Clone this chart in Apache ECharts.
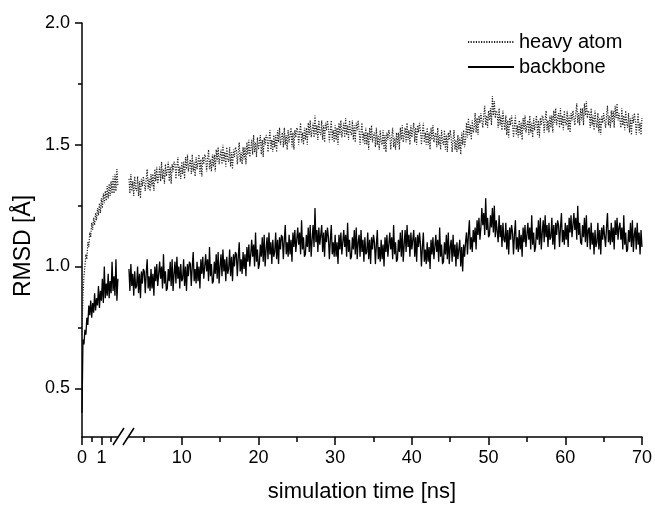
<!DOCTYPE html>
<html>
<head>
<meta charset="utf-8">
<script src="https://cdn.jsdelivr.net/npm/echarts@6/dist/echarts.min.js"></script>
<style>html,body{margin:0;padding:0;background:#fff}#c{width:655px;height:506px}</style>
</head>
<body>
<div id="c"></div>
<script>
// ---- data (RMSD in Å vs simulation time in ns) ----
// early segment: 0 .. 1.85 ns, step 0.05 ns
var earlyStart = 0, earlyStep = 0.05;
var heavyEarly = [0.72,0.88,0.96,1.00,1.05,1.03,1.10,1.08,1.14,1.12,1.18,1.15,1.20,1.17,1.22,1.19,1.24,1.21,1.26,1.22,
  1.28,1.24,1.30,1.26,1.31,1.27,1.33,1.28,1.34,1.29,1.35,1.30,1.37,1.30,1.38,1.31,1.40,1.33];
var backboneEarly = [0.40,0.70,0.68,0.74,0.72,0.79,0.76,0.84,0.80,0.86,0.79,0.85,0.81,0.89,0.82,0.87,0.84,0.92,0.83,0.90,
  0.86,0.95,0.85,1.00,0.87,0.93,0.88,0.97,0.87,0.94,0.89,1.02,0.90,0.96,0.88,1.03,0.86,0.95];
// main segment: 3.125 .. 70 ns, step 0.125 ns (one row = one ns)
var mainStart = 3.125, mainStep = 0.125;
var heavyMain = [
1.36,1.30,1.38,1.31,1.35,1.29,1.37,1.32, 1.31,1.37,1.29,1.35,1.28,1.36,1.33,1.37,
1.37,1.31,1.36,1.40,1.32,1.36,1.31,1.38, 1.33,1.38,1.31,1.40,1.35,1.41,1.34,1.37,
1.41,1.35,1.43,1.36,1.40,1.34,1.42,1.37, 1.37,1.43,1.35,1.41,1.34,1.42,1.39,1.43,
1.42,1.36,1.41,1.45,1.37,1.41,1.36,1.43, 1.38,1.43,1.36,1.45,1.40,1.46,1.39,1.42,
1.44,1.38,1.46,1.39,1.43,1.37,1.45,1.40, 1.40,1.46,1.38,1.44,1.37,1.45,1.42,1.46,
1.45,1.39,1.44,1.48,1.40,1.44,1.39,1.46, 1.41,1.46,1.39,1.48,1.43,1.49,1.42,1.45,
1.48,1.42,1.50,1.43,1.47,1.41,1.49,1.44, 1.43,1.49,1.41,1.47,1.40,1.48,1.45,1.49,
1.48,1.42,1.47,1.51,1.43,1.47,1.42,1.49, 1.44,1.49,1.42,1.51,1.46,1.52,1.45,1.48,
1.52,1.46,1.54,1.47,1.51,1.45,1.53,1.48, 1.48,1.54,1.46,1.52,1.45,1.53,1.50,1.54,
1.53,1.47,1.52,1.56,1.48,1.52,1.47,1.54, 1.49,1.54,1.47,1.56,1.51,1.57,1.50,1.53,
1.55,1.49,1.57,1.50,1.54,1.48,1.56,1.51, 1.51,1.57,1.49,1.55,1.48,1.56,1.53,1.57,
1.56,1.50,1.55,1.59,1.51,1.55,1.50,1.57, 1.52,1.57,1.50,1.59,1.54,1.60,1.53,1.56,
1.59,1.53,1.62,1.54,1.58,1.52,1.60,1.55, 1.54,1.60,1.52,1.58,1.51,1.59,1.56,1.60,
1.57,1.51,1.56,1.60,1.52,1.56,1.51,1.58, 1.52,1.57,1.50,1.59,1.54,1.60,1.53,1.56,
1.59,1.53,1.61,1.54,1.58,1.52,1.60,1.55, 1.54,1.60,1.52,1.58,1.51,1.59,1.56,1.60,
1.56,1.50,1.55,1.59,1.51,1.55,1.50,1.57, 1.50,1.55,1.48,1.57,1.52,1.58,1.51,1.54,
1.55,1.49,1.57,1.50,1.54,1.48,1.56,1.51, 1.50,1.56,1.48,1.54,1.47,1.55,1.52,1.56,
1.54,1.48,1.53,1.57,1.49,1.53,1.48,1.55, 1.50,1.55,1.48,1.57,1.52,1.58,1.51,1.54,
1.57,1.51,1.59,1.52,1.56,1.50,1.58,1.53, 1.53,1.59,1.51,1.57,1.50,1.58,1.55,1.59,
1.56,1.50,1.55,1.59,1.51,1.55,1.50,1.57, 1.50,1.55,1.48,1.57,1.52,1.58,1.51,1.54,
1.55,1.49,1.57,1.50,1.54,1.48,1.56,1.51, 1.50,1.56,1.48,1.54,1.47,1.55,1.52,1.56,
1.53,1.47,1.52,1.56,1.48,1.52,1.47,1.54, 1.48,1.53,1.46,1.55,1.50,1.56,1.49,1.52,
1.59,1.53,1.61,1.54,1.58,1.52,1.60,1.55, 1.57,1.63,1.55,1.61,1.54,1.62,1.59,1.63,
1.63,1.57,1.62,1.66,1.58,1.62,1.57,1.64, 1.60,1.65,1.58,1.70,1.62,1.68,1.61,1.64,
1.63,1.57,1.65,1.58,1.62,1.56,1.64,1.59, 1.56,1.62,1.54,1.60,1.53,1.61,1.58,1.62,
1.59,1.53,1.58,1.62,1.54,1.58,1.53,1.60, 1.54,1.59,1.52,1.61,1.56,1.62,1.55,1.58,
1.60,1.54,1.62,1.55,1.59,1.53,1.61,1.56, 1.56,1.62,1.54,1.60,1.53,1.61,1.58,1.62,
1.61,1.55,1.60,1.64,1.56,1.60,1.55,1.62, 1.57,1.62,1.55,1.64,1.59,1.65,1.58,1.61,
1.63,1.57,1.65,1.58,1.62,1.56,1.64,1.59, 1.58,1.64,1.56,1.62,1.55,1.63,1.60,1.64,
1.64,1.58,1.63,1.67,1.59,1.63,1.58,1.65, 1.60,1.65,1.58,1.67,1.62,1.68,1.61,1.64,
1.63,1.57,1.65,1.58,1.62,1.56,1.64,1.59, 1.57,1.63,1.55,1.61,1.54,1.62,1.59,1.63,
1.63,1.57,1.62,1.66,1.58,1.62,1.57,1.64, 1.59,1.64,1.57,1.66,1.61,1.67,1.60,1.63,
1.63,1.57,1.65,1.58,1.62,1.56,1.64,1.59, 1.57,1.63,1.55,1.61,1.54,1.62,1.59,1.63,
1.60,1.54,1.59,1.63,1.55,1.59,1.54,1.61];
var backboneMain = [
0.99,0.90,1.01,0.92,0.97,0.88,0.98,0.91, 0.92,1.00,0.89,0.97,0.87,0.98,0.93,0.99,
0.98,0.89,0.97,1.03,0.91,0.96,0.90,0.99, 0.91,0.97,0.88,1.00,0.94,1.01,0.92,0.97,
1.02,0.95,1.00,0.91,1.05,0.93,0.98,0.90, 0.91,0.99,0.94,1.02,0.92,1.03,0.90,0.97,
1.02,0.93,1.04,0.95,1.00,0.91,1.01,0.94, 0.95,1.03,0.92,1.00,0.90,1.01,0.96,1.02,
1.01,0.92,1.00,1.06,0.94,0.99,0.93,1.02, 0.94,1.00,0.91,1.03,0.97,1.04,0.95,1.00,
1.05,0.98,1.03,0.94,1.08,0.96,1.01,0.93, 0.94,1.02,0.97,1.05,0.95,1.06,0.93,1.00,
1.05,0.96,1.07,0.98,1.03,0.94,1.04,0.97, 0.99,1.07,0.96,1.04,0.94,1.05,1.00,1.06,
1.05,0.96,1.04,1.10,0.98,1.03,0.97,1.06, 0.99,1.05,0.96,1.08,1.02,1.09,1.00,1.05,
1.11,1.04,1.09,1.00,1.14,1.02,1.07,0.99, 1.01,1.09,1.04,1.12,1.02,1.13,1.00,1.07,
1.12,1.03,1.14,1.05,1.10,1.01,1.11,1.04, 1.06,1.14,1.03,1.11,1.01,1.12,1.07,1.13,
1.12,1.03,1.11,1.17,1.05,1.10,1.04,1.13, 1.05,1.11,1.02,1.14,1.08,1.15,1.06,1.11,
1.16,1.09,1.14,1.05,1.19,1.07,1.12,1.04, 1.05,1.13,1.08,1.16,1.06,1.17,1.04,1.11,
1.17,1.08,1.24,1.10,1.15,1.06,1.16,1.09, 1.09,1.17,1.06,1.14,1.04,1.15,1.10,1.16,
1.12,1.03,1.11,1.17,1.05,1.10,1.04,1.13, 1.04,1.10,1.01,1.13,1.07,1.14,1.05,1.10,
1.15,1.08,1.13,1.04,1.18,1.06,1.11,1.03, 1.04,1.12,1.07,1.15,1.05,1.16,1.03,1.10,
1.13,1.04,1.15,1.06,1.11,1.02,1.12,1.05, 1.06,1.14,1.03,1.11,1.01,1.12,1.07,1.13,
1.10,1.01,1.09,1.15,1.03,1.08,1.02,1.11, 1.03,1.09,1.00,1.12,1.06,1.13,1.04,1.09,
1.14,1.07,1.12,1.03,1.17,1.05,1.10,1.02, 1.03,1.11,1.06,1.14,1.04,1.15,1.02,1.09,
1.15,1.06,1.17,1.08,1.13,1.04,1.14,1.07, 1.07,1.15,1.04,1.12,1.02,1.13,1.08,1.14,
1.09,1.00,1.08,1.14,1.02,1.07,1.01,1.10, 1.02,1.08,0.99,1.11,1.05,1.12,1.03,1.08,
1.13,1.06,1.11,1.02,1.16,1.04,1.09,1.01, 1.02,1.10,1.05,1.13,1.03,1.14,1.01,1.08,
1.11,1.02,1.13,1.04,1.09,1.00,1.10,1.03, 1.03,1.11,1.00,1.08,0.98,1.09,1.04,1.10,
1.14,1.05,1.13,1.19,1.07,1.12,1.06,1.15, 1.10,1.16,1.07,1.19,1.13,1.20,1.11,1.16,
1.24,1.17,1.22,1.13,1.28,1.15,1.20,1.12, 1.13,1.21,1.16,1.24,1.14,1.25,1.12,1.19,
1.19,1.10,1.21,1.12,1.17,1.08,1.18,1.11, 1.10,1.18,1.07,1.15,1.05,1.16,1.11,1.17,
1.14,1.05,1.13,1.19,1.07,1.12,1.06,1.15, 1.07,1.13,1.04,1.16,1.10,1.17,1.08,1.13,
1.18,1.11,1.16,1.07,1.21,1.09,1.14,1.06, 1.08,1.16,1.11,1.19,1.09,1.20,1.07,1.14,
1.19,1.10,1.21,1.12,1.17,1.08,1.18,1.11, 1.12,1.20,1.09,1.17,1.07,1.18,1.13,1.19,
1.17,1.08,1.16,1.22,1.10,1.15,1.09,1.18, 1.11,1.17,1.08,1.20,1.14,1.21,1.12,1.17,
1.22,1.15,1.20,1.11,1.25,1.13,1.18,1.10, 1.09,1.17,1.12,1.20,1.10,1.21,1.08,1.15,
1.16,1.07,1.18,1.09,1.14,1.05,1.15,1.08, 1.10,1.18,1.07,1.15,1.05,1.16,1.11,1.17,
1.17,1.08,1.16,1.22,1.10,1.15,1.09,1.18, 1.10,1.16,1.07,1.19,1.13,1.20,1.11,1.16,
1.18,1.11,1.16,1.07,1.21,1.09,1.14,1.06, 1.07,1.15,1.10,1.18,1.08,1.19,1.06,1.13,
1.16,1.07,1.18,1.09,1.14,1.05,1.15,1.08];
// axis ticks
var xEarlyMajor = [0, 1], xEarlyMinor = [0.5, 1.5];
var xMainMajor = [10, 20, 30, 40, 50, 60, 70], xMainMinor = [5, 15, 25, 35, 45, 55, 65];
var yMajor = [0.5, 1.0, 1.5, 2.0], yMinor = [0.75, 1.25, 1.75];
var seriesNames = ['heavy atom', 'backbone'];

function pairs(start, step, vals) {
  return vals.map(function (v, i) { return [+(start + i * step).toFixed(4), v]; });
}

var FONT = '"Liberation Sans", Arial, Helvetica, sans-serif';
var chart = echarts.init(document.getElementById('c'), null, {renderer: 'canvas'});
var axisLine = {show: true, onZero: false, lineStyle: {color: '#000', width: 1.5}};
var tickStyle = {color: '#000', width: 1.5};
var labelStyle = {color: '#000', fontSize: 18, fontFamily: FONT};

var Y = {min: 0.3, max: 2.0};
var XE = {min: 0, max: 1.856};
var XM = {min: 3, max: 70};

var heavyStyle = {color: '#222', width: 1.2, type: [1.2, 1.4]};
var backStyle = {color: '#000', width: 1.3};

var option = {
  animation: false,
  backgroundColor: '#fff',
  grid: [
    {left: 82, top: 23, width: 36, bottom: 69},
    {left: 128, right: 12, top: 23, bottom: 69}
  ],
  xAxis: [
    {gridIndex: 0, type: 'value', position: 'bottom', min: XE.min, max: XE.max, axisLine: axisLine,
     axisTick: {show: true, inside: false, length: 8, lineStyle: tickStyle, customValues: xEarlyMajor},
     axisLabel: Object.assign({margin: 12, customValues: xEarlyMajor, formatter: function (v) { return String(v); }}, labelStyle),
     splitLine: {show: false}},
    {gridIndex: 0, type: 'value', position: 'bottom', min: XE.min, max: XE.max, axisLine: {show: false, onZero: false},
     axisTick: {show: true, length: 5, lineStyle: tickStyle, customValues: xEarlyMinor},
     axisLabel: {show: false}, splitLine: {show: false}},
    {gridIndex: 1, type: 'value', position: 'bottom', min: XM.min, max: XM.max, axisLine: axisLine,
     axisTick: {show: true, length: 8, lineStyle: tickStyle, customValues: xMainMajor},
     axisLabel: Object.assign({margin: 12, customValues: xMainMajor}, labelStyle),
     splitLine: {show: false}},
    {gridIndex: 1, type: 'value', position: 'bottom', min: XM.min, max: XM.max, axisLine: {show: false, onZero: false},
     axisTick: {show: true, length: 5, lineStyle: tickStyle, customValues: xMainMinor},
     axisLabel: {show: false}, splitLine: {show: false}}
  ],
  yAxis: [
    {gridIndex: 0, type: 'value', position: 'left', min: Y.min, max: Y.max, axisLine: axisLine,
     axisTick: {show: true, length: 7, lineStyle: tickStyle, customValues: yMajor},
     axisLabel: Object.assign({margin: 12, customValues: yMajor, formatter: function (v) { return v.toFixed(1); }}, labelStyle),
     splitLine: {show: false}},
    {gridIndex: 0, type: 'value', position: 'left', min: Y.min, max: Y.max, axisLine: {show: false, onZero: false},
     axisTick: {show: true, length: 4, lineStyle: tickStyle, customValues: yMinor},
     axisLabel: {show: false}, splitLine: {show: false}},
    {gridIndex: 1, type: 'value', min: Y.min, max: Y.max, show: false}
  ],
  legend: {
    orient: 'vertical', left: 462, top: 27, itemGap: 5, itemWidth: 46, itemHeight: 14,
    data: seriesNames,
    itemStyle: {color: 'rgba(0,0,0,0)', borderWidth: 0, opacity: 0},
    textStyle: {color: '#000', fontSize: 20, fontFamily: FONT}
  },
  graphic: [
    {type: 'rect', shape: {x: 118, y: 434, width: 10, height: 5}, style: {fill: '#fff'}, z: 99},
    {type: 'line', shape: {x1: 113, y1: 445, x2: 124, y2: 428}, style: {stroke: '#000', lineWidth: 1.5}, z: 100},
    {type: 'line', shape: {x1: 123, y1: 445, x2: 134, y2: 428}, style: {stroke: '#000', lineWidth: 1.5}, z: 100},
    {type: 'text', x: 362, y: 492, style: {text: 'simulation time [ns]', font: '22px ' + FONT, fill: '#000', textAlign: 'center', textVerticalAlign: 'middle'}},
    {type: 'text', x: 24, y: 246, rotation: Math.PI / 2, style: {text: 'RMSD [Å]', font: '23px ' + FONT, fill: '#000', textAlign: 'center', textVerticalAlign: 'middle'}}
  ],
  series: [
    {name: seriesNames[0], type: 'line', xAxisIndex: 0, yAxisIndex: 0, symbol: 'none', data: pairs(earlyStart, earlyStep, heavyEarly),
     lineStyle: heavyStyle, itemStyle: {color: '#222'}},
    {name: seriesNames[0], type: 'line', xAxisIndex: 2, yAxisIndex: 2, symbol: 'none', data: pairs(mainStart, mainStep, heavyMain),
     lineStyle: heavyStyle, itemStyle: {color: '#222'}},
    {name: seriesNames[1], type: 'line', xAxisIndex: 0, yAxisIndex: 0, symbol: 'none', data: pairs(earlyStart, earlyStep, backboneEarly),
     lineStyle: backStyle, itemStyle: {color: '#000'}},
    {name: seriesNames[1], type: 'line', xAxisIndex: 2, yAxisIndex: 2, symbol: 'none', data: pairs(mainStart, mainStep, backboneMain),
     lineStyle: backStyle, itemStyle: {color: '#000'}}
  ]
};
chart.setOption(option);
</script>
</body>
</html>
